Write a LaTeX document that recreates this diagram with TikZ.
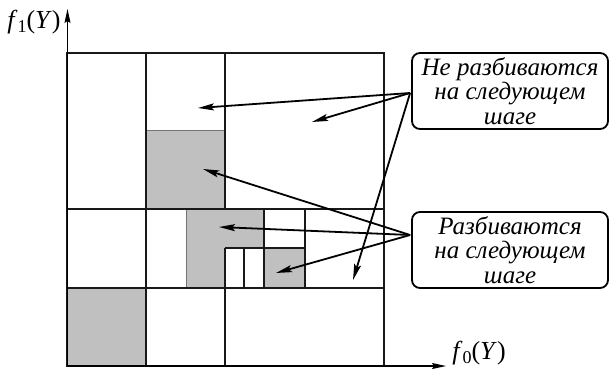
\documentclass[tikz,border=0pt]{standalone}
\usepackage{fontspec}
\setmainfont{Liberation Serif}
\usetikzlibrary{arrows.meta,calc}
\definecolor{cellgray}{RGB}{192,192,192}
\begin{document}
\begin{tikzpicture}[x=1pt,y=-1pt,
  grid/.style={line width=2.4pt,black!90},
  frame/.style={line width=2.8pt,black!90},
  graycell/.style={fill=cellgray,draw=black!55,line width=0.7pt},
  axis/.style={line width=1.1pt,-{Stealth[length=14pt,width=6pt,inset=2pt]}},
  pointer/.style={line width=1.8pt,-{Stealth[length=16pt,width=7pt,inset=3pt]}},
  note/.style={draw,line width=1.8pt,rounded corners=8pt,minimum width=196pt,minimum height=76pt,
    align=center,inner sep=1pt,font=\fontsize{25}{24.5}\selectfont\itshape},
  lab/.style={font=\fontsize{26}{28}\selectfont,inner sep=0pt}]
\useasboundingbox[fill=white] (0,0) rectangle (609,369);
% gray cells
\fill[graycell] (146,130) rectangle (225,209);
\fill[graycell] (186,209) -- (264,209) -- (264,248) -- (225,248) -- (225,288) -- (186,288) -- cycle;
\fill[graycell] (264,248) rectangle (305,288);
\fill[graycell] (67,288) rectangle (146,366);
\draw[graycell,fill=none] (146,130) rectangle (225,209);
\draw[graycell,fill=none] (186,209) -- (186,288);
% grid lines
\draw[grid] (146,53) -- (146,366);
\draw[grid] (225,53) -- (225,209);
\draw[grid] (225,248) -- (225,366);
\draw[grid] (67,209) -- (384,209);
\draw[grid] (67,288) -- (384,288);
\draw[grid] (264,209) -- (264,288);
\draw[grid] (305,209) -- (305,288);
\draw[grid] (225,248) -- (305,248);
\draw[grid] (244,248) -- (244,288);
\draw[frame] (67,53) rectangle (384,366);
% axes
\coordinate (o) at (67.5,366);
\coordinate (ytip) at (67.5,9);
\coordinate (xtip) at (446,366);
\draw[axis] (o) -- (ytip);
\draw[axis] (o) -- (xtip);
\node[lab] (fy) at (34,22) {\textit{f}\raisebox{-0.35ex}{\fontsize{18}{20}\selectfont 1}(\textit{Y})};
\node[lab] (fx) at (479,353) {\textit{f}\raisebox{-0.35ex}{\fontsize{18}{20}\selectfont 0}(\textit{Y})};
% notes
\node[note] (b1) at (510,91) {Не разбиваются\\на следующем\\шаге};
\node[note] (b2) at (510,250) {Разбиваются\\на следующем\\шаге};
\coordinate (s1) at ($(b1.west)+(-1,2)$);
\coordinate (s2) at ($(b2.west)+(-1,-15)$);
\coordinate (t1) at (198,108);
\coordinate (t2) at (312,122);
\coordinate (t3) at (353,280);
\coordinate (u1) at (203,169);
\coordinate (u2) at (219,227);
\coordinate (u3) at (276,273);
\draw[pointer] (s1) -- (t1);
\draw[pointer] (s1) -- (t2);
\draw[pointer] (s1) -- (t3);
\draw[pointer] (s2) -- (u1);
\draw[pointer] (s2) -- (u2);
\draw[pointer] (s2) -- (u3);
\end{tikzpicture}
\end{document}
